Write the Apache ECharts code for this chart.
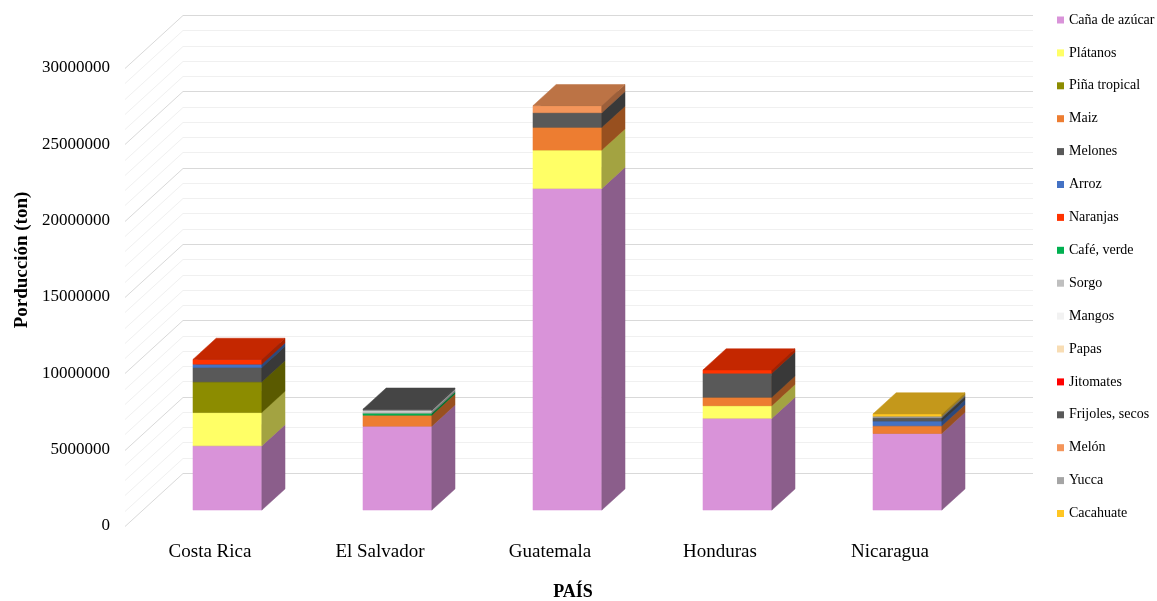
<!DOCTYPE html>
<html>
<head>
<meta charset="utf-8">
<script src="https://cdn.jsdelivr.net/npm/echarts@6/dist/echarts.min.js"></script>
<style>
  html, body { margin: 0; padding: 0; background: #fff; }
  #chart { width: 1157px; height: 601px; }
</style>
</head>
<body>
<div id="chart"></div>
<script>
// Countries on the category axis
const countries = ['Costa Rica', 'El Salvador', 'Guatemala', 'Honduras', 'Nicaragua'];

// Production (tonnes) per crop, one value per country
const canaAzucar   = [4210000, 5500000, 21070000, 6010000, 5020000];
const platanos     = [2180000, 0, 2510000, 830000, 0];
const pinaTropical = [2010000, 0, 0, 0, 0];
const maiz         = [0, 720000, 1490000, 550000, 500000];
const melones      = [940000, 0, 960000, 1570000, 0];
const arroz        = [220000, 0, 0, 0, 310000];
const naranjas     = [310000, 0, 0, 220000, 0];
const cafeVerde    = [0, 130000, 0, 0, 0];
const sorgo        = [0, 120000, 0, 0, 0];
const mangos       = [0, 70000, 0, 0, 0];
const papas        = [0, 0, 0, 0, 0];
const jitomates    = [0, 0, 0, 0, 0];
const frijoles     = [0, 70000, 0, 0, 220000];
const melon        = [0, 0, 460000, 0, 0];
const yucca        = [0, 0, 0, 0, 100000];
const cacahuate    = [0, 0, 0, 0, 150000];

// Value axis ticks and the lighter 1,000,000 wall lines
const yTicks = [0, 5000000, 10000000, 15000000, 20000000, 25000000, 30000000];
const wallLines = [0, 1000000, 2000000, 3000000, 4000000, 5000000, 6000000, 7000000,
  8000000, 9000000, 10000000, 11000000, 12000000, 13000000, 14000000, 15000000,
  16000000, 17000000, 18000000, 19000000, 20000000, 21000000, 22000000, 23000000,
  24000000, 25000000, 26000000, 27000000, 28000000, 29000000, 30000000];

const crops = [
  { name: 'Caña de azúcar',  values: canaAzucar,   color: '#D993D9' },
  { name: 'Plátanos',        values: platanos,     color: '#FFFF66' },
  { name: 'Piña tropical',   values: pinaTropical, color: '#8C8C00' },
  { name: 'Maiz',            values: maiz,         color: '#ED7D31' },
  { name: 'Melones',         values: melones,      color: '#595959' },
  { name: 'Arroz',           values: arroz,        color: '#4472C4' },
  { name: 'Naranjas',        values: naranjas,     color: '#FF3300' },
  { name: 'Café, verde',     values: cafeVerde,    color: '#00B050' },
  { name: 'Sorgo',           values: sorgo,        color: '#BFBFBF' },
  { name: 'Mangos',          values: mangos,       color: '#F2F2F2' },
  { name: 'Papas',           values: papas,        color: '#F8DDB4' },
  { name: 'Jitomates',       values: jitomates,    color: '#FF0000' },
  { name: 'Frijoles, secos', values: frijoles,     color: '#595959' },
  { name: 'Melón',           values: melon,        color: '#F4955A' },
  { name: 'Yucca',           values: yucca,        color: '#A5A5A5' },
  { name: 'Cacahuate',       values: cacahuate,    color: '#FFC623' }
];

// Oblique 3-D projection: full floor depth in pixels, bars occupy the middle 40 %
const DEPTH_X = 58, DEPTH_Y = 53;
const BAR_FRONT = 0.3, BAR_DEPTH = 0.4, BAR_WIDTH = 0.405;
const FONT = '"Liberation Serif", "Times New Roman", serif';

function shade(hex, f) {
  const n = parseInt(hex.slice(1), 16);
  const r = Math.round(((n >> 16) & 255) * f);
  const g = Math.round(((n >> 8) & 255) * f);
  const b = Math.round((n & 255) * f);
  return 'rgb(' + r + ',' + g + ',' + b + ')';
}

// Back wall and left side wall grid lines
function renderWalls(params, api) {
  const cs = params.coordSys;
  const v = api.value(1);
  const y = Math.round(api.coord([0, v])[1]) + 0.5;
  const major = v % 5000000 === 0;
  const stroke = major ? '#D9D9D9' : '#F0F0F0';
  return {
    type: 'group',
    children: [
      { type: 'line', shape: { x1: cs.x + DEPTH_X, y1: y - DEPTH_Y, x2: cs.x + cs.width + DEPTH_X, y2: y - DEPTH_Y },
        style: { stroke: stroke, lineWidth: 1 } },
      { type: 'line', shape: { x1: cs.x, y1: y, x2: cs.x + DEPTH_X, y2: y - DEPTH_Y },
        style: { stroke: stroke, lineWidth: 1 } }
    ]
  };
}

// One stacked 3-D block: front, side and top faces
function makeBlockRenderer(color) {
  const side = shade(color, 0.64);
  const top = shade(color, 0.77);
  return function (params, api) {
    const ci = api.value(0), lo = api.value(1), hi = api.value(2);
    if (hi <= lo) return null;
    const band = api.size([1, 0])[0];
    const w = band * BAR_WIDTH;
    const pLo = api.coord([ci, lo]);
    const pHi = api.coord([ci, hi]);
    const ox = DEPTH_X * BAR_FRONT, oy = DEPTH_Y * BAR_FRONT;
    const dx = DEPTH_X * BAR_DEPTH, dy = DEPTH_Y * BAR_DEPTH;
    const xl = pLo[0] - w / 2 + ox, xr = xl + w;
    const yb = pLo[1] - oy, yt = pHi[1] - oy;
    return {
      type: 'group',
      children: [
        { type: 'polygon', shape: { points: [[xl, yb], [xr, yb], [xr, yt], [xl, yt]] },
          style: { fill: color, stroke: color, lineWidth: 0.5 } },
        { type: 'polygon', shape: { points: [[xr, yb], [xr + dx, yb - dy], [xr + dx, yt - dy], [xr, yt]] },
          style: { fill: side, stroke: side, lineWidth: 0.5 } },
        { type: 'polygon', shape: { points: [[xl, yt], [xr, yt], [xr + dx, yt - dy], [xl + dx, yt - dy]] },
          style: { fill: top, stroke: top, lineWidth: 0.5 } }
      ]
    };
  };
}

// Stack the crops in order, building [category, start, end] per country
const running = countries.map(() => 0);
const cropSeries = crops.map(c => {
  const data = c.values.map((v, i) => {
    const start = running[i];
    running[i] += v;
    return [i, start, running[i]];
  });
  return {
    type: 'custom',
    name: c.name,
    itemStyle: { color: c.color },
    renderItem: makeBlockRenderer(c.color),
    encode: { x: 0, y: [1, 2] },
    data: data,
    clip: false,
    z: 3
  };
});

const chart = echarts.init(document.getElementById('chart'), null, { renderer: 'canvas' });
chart.setOption({
  animation: false,
  backgroundColor: '#ffffff',
  grid: { left: 125, right: 182, top: 68, bottom: 75 },
  legend: {
    orient: 'vertical',
    left: 1057,
    top: 13,
    padding: 0,
    icon: 'rect',
    itemWidth: 7,
    itemHeight: 7,
    itemGap: 18.9,
    selectedMode: false,
    data: crops.map(c => c.name),
    textStyle: { fontFamily: FONT, fontSize: 14, lineHeight: 14, color: '#000' }
  },
  xAxis: {
    type: 'category',
    data: countries,
    axisLine: { show: false },
    axisTick: { show: false },
    axisLabel: { fontFamily: FONT, fontSize: 19, color: '#000', margin: 17 }
  },
  yAxis: {
    type: 'value',
    min: yTicks[0],
    max: yTicks[yTicks.length - 1],
    interval: yTicks[1] - yTicks[0],
    axisLine: { show: false },
    axisTick: { show: false },
    splitLine: { show: false },
    axisLabel: { fontFamily: FONT, fontSize: 17, color: '#000', margin: 15,
                 formatter: v => String(v) }
  },
  graphic: [
    { type: 'text', x: 22, y: 260, rotation: Math.PI / 2,
      style: { text: 'Porducción (ton)', font: 'bold 19px ' + FONT, fill: '#000',
               textAlign: 'center', textVerticalAlign: 'middle' } },
    { type: 'text', x: 573, y: 592,
      style: { text: 'PAÍS', font: 'bold 18px ' + FONT, fill: '#000',
               textAlign: 'center', textVerticalAlign: 'middle' } }
  ],
  series: [
    {
      type: 'custom',
      name: 'walls',
      renderItem: renderWalls,
      encode: { x: 0, y: 1 },
      data: wallLines.map(v => [0, v]),
      clip: false,
      silent: true,
      z: 1
    }
  ].concat(cropSeries)
});
</script>
</body>
</html>
